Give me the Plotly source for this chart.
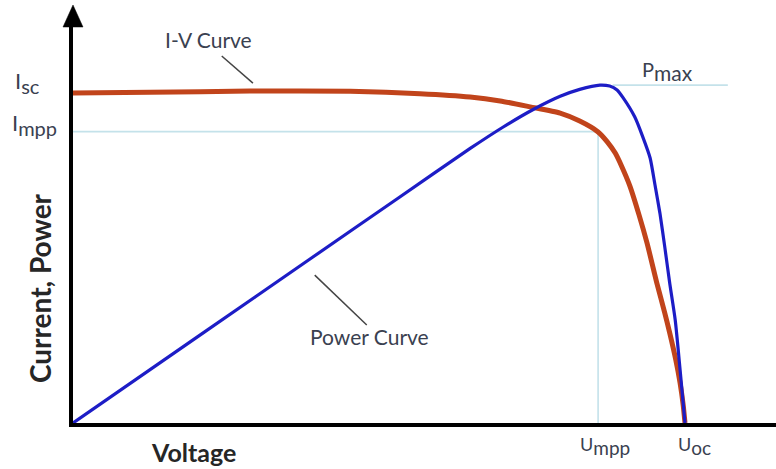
import plotly.graph_objects as go

# ---- data (normalised units: U_oc = 1, I_sc = 1) ----
iv_voltage = [0.000, 0.126, 0.289, 0.453, 0.567, 0.649, 0.698, 0.747, 0.796, 0.828,
              0.858, 0.873, 0.886, 0.897, 0.910, 0.925, 0.938, 0.954, 0.967, 0.975,
              0.985, 0.992, 0.997, 1.000]
iv_current = [1.000, 1.002, 1.006, 1.005, 0.998, 0.988, 0.976, 0.958, 0.939, 0.915,
              0.882, 0.852, 0.818, 0.776, 0.718, 0.630, 0.545, 0.424, 0.333, 0.273,
              0.191, 0.121, 0.055, 0.000]

p_voltage = [0.000, 0.208, 0.392, 0.534, 0.649, 0.703, 0.752, 0.796, 0.828, 0.861,
             0.877, 0.889, 0.899, 0.918, 0.931, 0.943, 0.951, 0.959, 0.967, 0.975,
             0.984, 0.992, 1.000]
p_power = [0.000, 0.267, 0.503, 0.685, 0.832, 0.897, 0.950, 0.990, 1.011, 1.024,
           1.021, 1.009, 0.985, 0.927, 0.867, 0.803, 0.721, 0.636, 0.533, 0.424,
           0.312, 0.161, 0.000]

U_MPP = 0.858
U_OC = 1.000
I_SC = 1.000
I_MPP = 0.883
P_MAX = 1.024

# tick-like labels: (main letter, subscript)
x_tick_labels = [("U", "mpp"), ("U", "oc")]
y_tick_labels = [("I", "sc"), ("I", "mpp")]
pmax_label = ("P", "max")

ORANGE = "#c1441b"
BLUE = "#1d1dc6"
GUIDE = "#c4e2ea"
LEADER = "#454545"
TXT = "#3a4150"
FONT = "Lato"

fig = go.Figure()

# guide lines
fig.add_trace(go.Scatter(x=[0, U_MPP, U_MPP], y=[I_MPP, I_MPP, 0], mode="lines",
                         line=dict(color=GUIDE, width=1.6), hoverinfo="skip"))
fig.add_trace(go.Scatter(x=[0.882, 1.070], y=[P_MAX, P_MAX], mode="lines",
                         line=dict(color=GUIDE, width=1.6), hoverinfo="skip"))

# curves
fig.add_trace(go.Scatter(x=iv_voltage, y=iv_current, mode="lines",
                         line=dict(color=ORANGE, width=5, shape="spline", smoothing=0.6)))
fig.add_trace(go.Scatter(x=p_voltage, y=p_power, mode="lines",
                         line=dict(color=BLUE, width=3.2, shape="spline", smoothing=0.6)))

# leader lines
fig.add_trace(go.Scatter(x=[0.243, 0.294], y=[1.112, 1.030], mode="lines",
                         line=dict(color=LEADER, width=1.5)))
fig.add_trace(go.Scatter(x=[0.395, 0.480], y=[0.448, 0.297], mode="lines",
                         line=dict(color=LEADER, width=1.5)))

ann = []
def label(x, y, text, size=21, color=TXT, bold=False, angle=0, xanchor="center", ref="data"):
    t = f"<b>{text}</b>" if bold else text
    xr, yr = ("x", "y") if ref == "data" else ("paper", "paper")
    ann.append(dict(x=x, y=y, xref=xr, yref=yr, text=t, showarrow=False,
                    textangle=angle, xanchor=xanchor, yanchor="middle",
                    font=dict(family=FONT, size=size, color=color)))

def subtext(pair, subsize):
    main, sub = pair
    return f"{main}<sub><span style='font-size:{subsize}px'>{sub}</span></sub>"

label(0.221, 1.161, "I-V Curve")
label(0.485, 0.261, "Power Curve")
label(0.972, 1.068, subtext(pmax_label, 21), size=20)
# labels outside the plotting area (paper coordinates)
label(-0.0853, 0.848, subtext(y_tick_labels[0], 20), size=22, xanchor="left", ref="paper")
label(-0.0896, 0.745, subtext(y_tick_labels[1], 20), size=22, xanchor="left", ref="paper")
label(0.7574, -0.0580, subtext(x_tick_labels[0], 19), size=18, ref="paper")
label(0.8845, -0.0580, subtext(x_tick_labels[1], 19), size=18, ref="paper")
label(0.1721, -0.0711, "Voltage", size=25, color="#262626", bold=True, ref="paper")
label(-0.0469, 0.3367, "Current, Power", size=28, color="#262626", bold=True,
      angle=-90, ref="paper")

# y-axis arrow head (paper coordinates)
arrow = dict(type="path", xref="paper", yref="paper",
             path="M -0.0142,0.9875 L 0.0142,0.9875 L 0,1.0424 Z",
             fillcolor="black", line=dict(color="black", width=0.5))

fig.update_layout(
    width=776, height=469,
    margin=dict(l=73, r=0, t=22, b=46),
    paper_bgcolor="white", plot_bgcolor="white",
    showlegend=False,
    annotations=ann,
    shapes=[arrow],
    xaxis=dict(range=[0, 703 / 612], showgrid=False, zeroline=False, showticklabels=False,
               ticks="", showline=True, linecolor="black", linewidth=4, fixedrange=True),
    yaxis=dict(range=[0, 401 / 330], showgrid=False, zeroline=False, showticklabels=False,
               ticks="", showline=True, linecolor="black", linewidth=4, fixedrange=True),
)

fig.write_html("out.html", config={"displayModeBar": False},
               post_script="document.body.style.margin='0';document.body.style.overflow='hidden';")
